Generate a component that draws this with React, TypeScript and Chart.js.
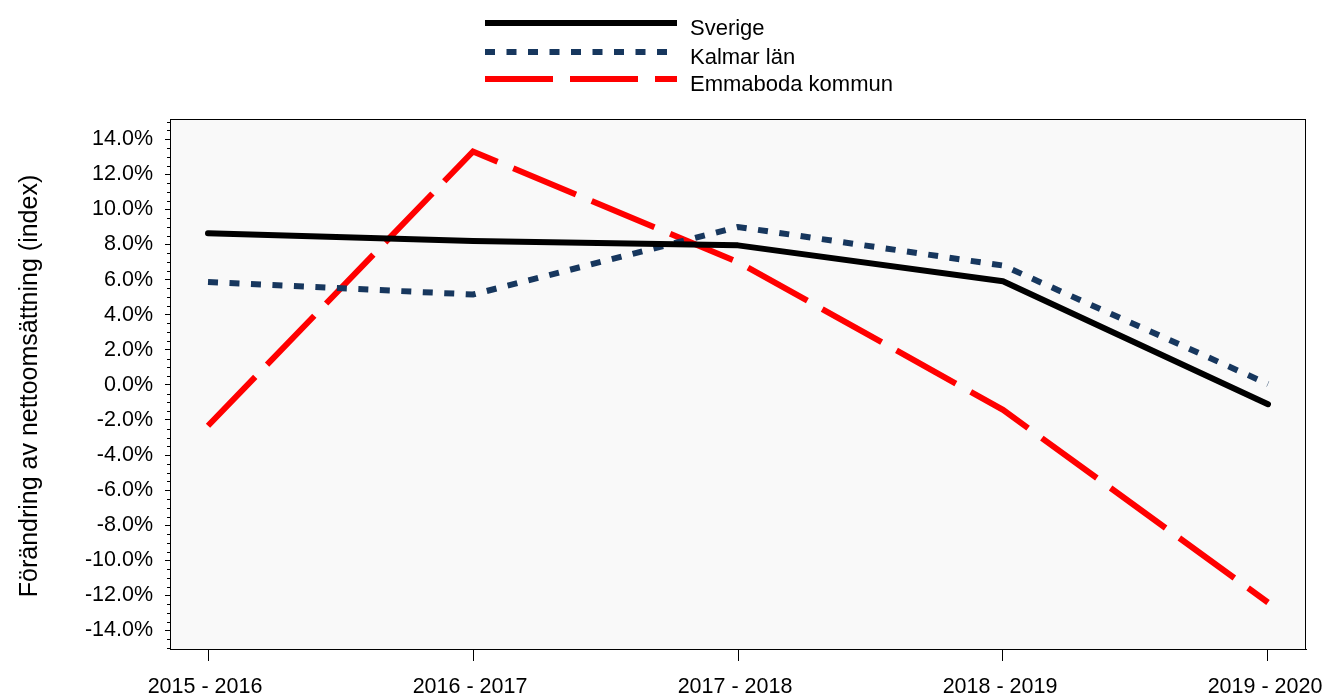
import React, { useEffect, useRef } from 'react';
import { Chart, registerables } from 'chart.js';

Chart.register(...registerables);

const periods = ['2015 - 2016', '2016 - 2017', '2017 - 2018', '2018 - 2019', '2019 - 2020'];
const seriesNames = ['Sverige', 'Kalmar län', 'Emmaboda kommun'];
const sverige = [8.64, 8.2, 7.95, 5.9, -1.1];
const kalmar = [5.86, 5.15, 9.0, 6.8, 0.05];
const emmaboda = [-2.33, 13.3, 7.0, -1.42, -12.4];
const yTickValues = [-14, -12, -10, -8, -6, -4, -2, 0, 2, 4, 6, 8, 10, 12, 14];
const yMin = -15.05;
const yMax = 15.15;
const minorStep = 0.5;
const yTitle = 'Förändring av nettoomsättning (index)';

const FONT = "'Liberation Sans', Arial, sans-serif";

const decor = {
  id: 'decor',
  beforeDraw(chart: any) {
    const { ctx, chartArea: a } = chart;
    ctx.save();
    ctx.fillStyle = '#F9F9F9';
    ctx.fillRect(a.left, a.top, a.right - a.left, a.bottom - a.top);
    ctx.restore();
  },
  beforeDatasetsDraw(chart: any) {
    const { ctx, chartArea: a } = chart;
    ctx.save();
    ctx.strokeStyle = '#000';
    ctx.lineWidth = 1;
    ctx.strokeRect(a.left + 0.5, a.top + 0.5, a.right - a.left - 1, a.bottom - a.top);
    // minor ticks on y axis
    const ys = chart.scales.y;
    ctx.beginPath();
    for (let v = -15; v <= 15 + 1e-9; v += minorStep) {
      if (yTickValues.includes(Math.round(v * 10) / 10)) continue;
      const py = Math.round(ys.getPixelForValue(v)) + 0.5;
      ctx.moveTo(a.left - 3, py);
      ctx.lineTo(a.left, py);
    }
    ctx.stroke();
    ctx.restore();
  },
  afterDraw(chart: any) {
    const { ctx } = chart;
    ctx.save();
    // y title
    ctx.translate(30, 386);
    ctx.rotate(-Math.PI / 2);
    ctx.fillStyle = '#000';
    ctx.font = `25px ${FONT}`;
    ctx.textAlign = 'center';
    ctx.textBaseline = 'middle';
    ctx.fillText(yTitle, 0, 0);
    ctx.restore();

    // legend
    const rows = [23, 52, 79];
    chart.data.datasets.forEach((ds: any, i: number) => {
      const y = rows[i];
      ctx.save();
      ctx.strokeStyle = ds.borderColor;
      ctx.lineWidth = 6;
      ctx.lineCap = 'butt';
      ctx.setLineDash(ds.borderDash || []);
      ctx.beginPath();
      ctx.moveTo(485, y);
      ctx.lineTo(677, y);
      ctx.stroke();
      ctx.setLineDash([]);
      ctx.fillStyle = '#000';
      ctx.font = `22px ${FONT}`;
      ctx.textAlign = 'left';
      ctx.textBaseline = 'alphabetic';
      ctx.fillText(ds.label, 690, y + 11.5);
      ctx.restore();
    });
  },
};

export default function App() {
  const canvasRef = useRef<HTMLCanvasElement | null>(null);

  useEffect(() => {
    document.body.style.margin = '0';
    const canvas = canvasRef.current;
    if (!canvas) return;
    Chart.defaults.font.family = FONT;
    Chart.defaults.color = '#000';

    const toPts = (arr: number[]) => arr.map((v, i) => ({ x: i, y: v }));

    const chart = new Chart(canvas, {
      type: 'line',
      data: {
        datasets: [
          {
            label: seriesNames[0],
            data: toPts(sverige),
            borderColor: '#000000',
            borderWidth: 6,
            borderCapStyle: 'round',
            borderJoinStyle: 'round',
            pointRadius: 0,
            fill: false,
          },
          {
            label: seriesNames[1],
            data: toPts(kalmar),
            borderColor: '#17375E',
            borderWidth: 6,
            borderDash: [10, 11.5],
            borderCapStyle: 'butt',
            borderJoinStyle: 'miter',
            pointRadius: 0,
            fill: false,
          },
          {
            label: seriesNames[2],
            data: toPts(emmaboda),
            borderColor: '#FF0000',
            borderWidth: 6,
            borderDash: [68, 17],
            borderCapStyle: 'butt',
            borderJoinStyle: 'miter',
            pointRadius: 0,
            fill: false,
          },
        ],
      },
      options: {
        responsive: false,
        animation: false,
        layout: { padding: { left: 0, right: 18, top: 119, bottom: 0 } },
        plugins: {
          legend: { display: false },
          tooltip: { enabled: false },
          title: { display: false },
        },
        scales: {
          x: {
            type: 'linear',
            min: -0.1434,
            max: 4.1434,
            afterBuildTicks: (scale: any) => {
              scale.ticks = periods.map((_, i) => ({ value: i }));
            },
            afterFit: (scale: any) => {
              scale.height = 51;
              scale.paddingLeft = 0;
              scale.paddingRight = 0;
            },
            ticks: {
              autoSkip: false,
              maxRotation: 0,
              padding: 13,
              font: { size: 21.5 },
              color: '#000',
              callback: (v: any) => (periods[Math.round(Number(v))] ?? '') + ' ',
            },
            grid: {
              display: true,
              drawOnChartArea: false,
              drawTicks: true,
              tickLength: 12,
              color: '#000',
              lineWidth: 1,
            },
            border: { display: true, color: '#000', width: 1 },
          },
          y: {
            type: 'linear',
            min: yMin,
            max: yMax,
            afterBuildTicks: (scale: any) => {
              scale.ticks = yTickValues.map((v) => ({ value: v }));
            },
            afterFit: (scale: any) => {
              scale.width = 170;
              scale.paddingTop = 0;
              scale.paddingBottom = 0;
            },
            ticks: {
              autoSkip: false,
              padding: 12,
              font: { size: 21.5 },
              color: '#000',
              callback: (v: any) => Number(v).toFixed(1) + '%',
            },
            grid: {
              display: true,
              drawOnChartArea: false,
              drawTicks: true,
              tickLength: 5,
              color: '#000',
              lineWidth: 1,
            },
            border: { display: true, color: '#000', width: 1 },
          },
        },
      },
      plugins: [decor],
    } as any);

    return () => chart.destroy();
  }, []);

  return (
    <div style={{ width: 1324, height: 700, position: 'relative' }}>
      <canvas ref={canvasRef} width={1324} height={700} style={{ display: 'block' }} />
    </div>
  );
}
